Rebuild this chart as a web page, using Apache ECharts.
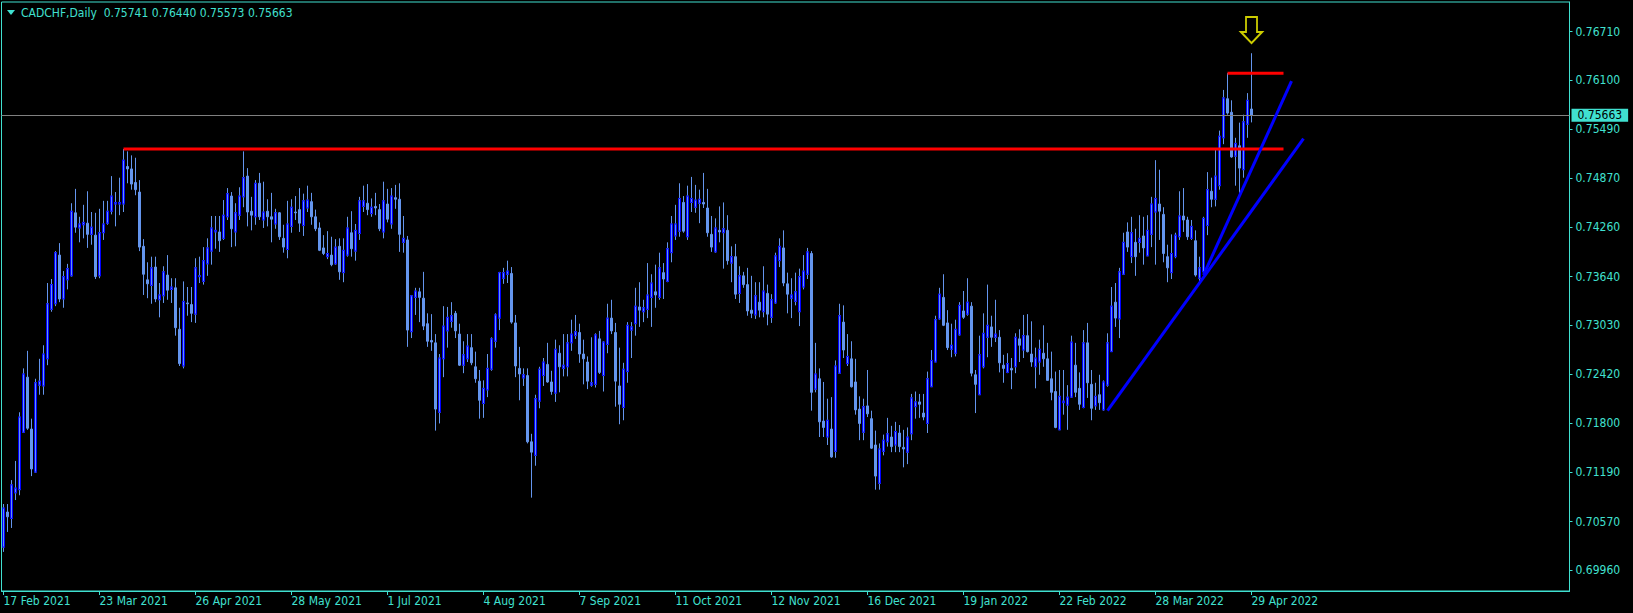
<!DOCTYPE html>
<html>
<head>
<meta charset="utf-8">
<script src="https://cdn.jsdelivr.net/npm/echarts@6/dist/echarts.min.js"></script>
<style>
html,body{margin:0;padding:0;background:#000;}
#c{width:1633px;height:613px;}
</style>
</head>
<body>
<div id="c"></div>
<script>
// ---- DATA (CADCHF Daily) ----
const symbolName = 'CADCHF,Daily';
const tickLabels = ['17 Feb 2021','23 Mar 2021','26 Apr 2021','28 May 2021','1 Jul 2021','4 Aug 2021','7 Sep 2021','11 Oct 2021','12 Nov 2021','16 Dec 2021','19 Jan 2022','22 Feb 2022','28 Mar 2022','29 Apr 2022'];
const priceLabels = [0.76710,0.76100,0.75490,0.74870,0.74260,0.73640,0.73030,0.72420,0.71800,0.71190,0.70570,0.69960];

const opens = [
0.7025,0.7069,0.7061,0.7093,0.7097,0.7169,0.7238,0.7173,0.7119,0.7228,
0.7227,0.7261,0.7323,0.7330,0.7391,0.7336,0.7360,0.7365,0.7444,0.7425,
0.7429,0.7431,0.7417,0.7416,0.7365,0.7419,0.7431,0.7446,0.7455,0.7455,
0.7455,0.7502,0.7499,0.7482,0.7470,0.7402,0.7360,0.7353,0.7376,0.7335,
0.7340,0.7366,0.7348,0.7350,0.7298,0.7252,0.7331,0.7329,0.7317,0.7364,
0.7358,0.7380,0.7396,0.7420,0.7420,0.7412,0.7439,0.7465,0.7420,0.7441,
0.7464,0.7490,0.7446,0.7439,0.7481,0.7435,0.7446,0.7439,0.7430,0.7444,
0.7412,0.7398,0.7427,0.7445,0.7448,0.7428,0.7450,0.7458,0.7439,0.7425,
0.7400,0.7389,0.7391,0.7380,0.7402,0.7369,0.7391,0.7419,0.7396,0.7418,
0.7452,0.7456,0.7443,0.7452,0.7448,0.7420,0.7455,0.7430,0.7463,0.7461,
0.7407,0.7410,0.7295,0.7338,0.7345,0.7337,0.7305,0.7284,0.7281,0.7194,
0.7261,0.7296,0.7308,0.7318,0.7292,0.7253,0.7261,0.7275,0.7251,0.7233,
0.7205,0.7222,0.7248,0.7283,0.7312,0.7362,0.7367,0.7368,0.7306,0.7249,
0.7237,0.7240,0.7157,0.7140,0.7208,0.7240,0.7254,0.7232,0.7218,0.7268,
0.7249,0.7251,0.7281,0.7290,0.7294,0.7267,0.7257,0.7228,0.7229,0.7286,
0.7240,0.7279,0.7312,0.7294,0.7227,0.7200,0.7245,0.7297,0.7305,0.7326,
0.7320,0.7323,0.7338,0.7345,0.7338,0.7369,0.7358,0.7394,0.7415,0.7421,
0.7457,0.7414,0.7457,0.7451,0.7456,0.7457,0.7450,0.7417,0.7395,0.7422,
0.7419,0.7422,0.7381,0.7389,0.7343,0.7365,0.7354,0.7322,0.7316,0.7332,
0.7320,0.7343,0.7313,0.7331,0.7384,0.7400,0.7355,0.7337,0.7333,0.7320,
0.7351,0.7367,0.7393,0.7223,0.7236,0.7183,0.7163,0.7173,0.7145,0.7243,
0.7307,0.7255,0.7261,0.7232,0.7198,0.7169,0.7202,0.7186,0.7153,0.7105,
0.7145,0.7157,0.7163,0.7153,0.7168,0.7150,0.7144,0.7167,0.7201,0.7207,
0.7193,0.7180,0.7226,0.7257,0.7311,0.7338,0.7306,0.7273,0.7268,0.7291,
0.7321,0.7317,0.7327,0.7241,0.7216,0.7251,0.7288,0.7301,0.7288,0.7288,
0.7253,0.7244,0.7249,0.7251,0.7286,0.7272,0.7290,0.7267,0.7251,0.7257,
0.7268,0.7261,0.7236,0.7220,0.7172,0.7206,0.7203,0.7213,0.7253,0.7224,
0.7200,0.7281,0.7229,0.7202,0.7216,0.7197,0.7228,0.7270,0.7332,0.7311,
0.7367,0.7420,0.7389,0.7407,0.7407,0.7415,0.7390,0.7417,0.7445,0.7455,
0.7442,0.7389,0.7369,0.7389,0.7414,0.7440,0.7435,0.7412,0.7409,0.7362,
0.7370,0.7428,0.7471,0.7461,0.7478,0.7538,0.7587,0.7570,0.7515,0.7528,
0.7498,0.7555,0.75741];

const closes = [
0.7074,0.7063,0.7103,0.7099,0.7188,0.7242,0.7174,0.7123,0.7231,0.7233,
0.7267,0.7330,0.7354,0.7394,0.7336,0.7364,0.7374,0.7446,0.7426,0.7430,
0.7432,0.7417,0.7426,0.7364,0.7419,0.7430,0.7446,0.7465,0.7457,0.7457,
0.7510,0.7499,0.7480,0.7473,0.7401,0.7367,0.7355,0.7375,0.7336,0.7341,
0.7370,0.7347,0.7351,0.7300,0.7255,0.7333,0.7330,0.7318,0.7375,0.7365,
0.7384,0.7400,0.7425,0.7422,0.7409,0.7441,0.7468,0.7424,0.7444,0.7465,
0.7488,0.7445,0.7441,0.7481,0.7439,0.7445,0.7439,0.7436,0.7444,0.7414,
0.7401,0.7430,0.7451,0.7444,0.7431,0.7459,0.7460,0.7439,0.7424,0.7397,
0.7393,0.7393,0.7379,0.7401,0.7370,0.7397,0.7425,0.7399,0.7422,0.7459,
0.7459,0.7448,0.7451,0.7450,0.7424,0.7459,0.7436,0.7465,0.7461,0.7417,
0.7412,0.7297,0.7340,0.7346,0.7338,0.7302,0.7283,0.7282,0.7198,0.7262,
0.7302,0.7313,0.7315,0.7296,0.7253,0.7266,0.7277,0.7256,0.7236,0.7209,
0.7224,0.7249,0.7286,0.7316,0.7369,0.7369,0.7371,0.7307,0.7252,0.7242,
0.7241,0.7157,0.7144,0.7211,0.7248,0.7257,0.7232,0.7220,0.7273,0.7251,
0.7253,0.7281,0.7292,0.7295,0.7267,0.7261,0.7233,0.7231,0.7291,0.7244,
0.7282,0.7312,0.7296,0.7233,0.7204,0.7248,0.7303,0.7301,0.7327,0.7322,
0.7325,0.7341,0.7356,0.7341,0.7375,0.7361,0.7399,0.7430,0.7430,0.7462,
0.7421,0.7465,0.7462,0.7460,0.7461,0.7455,0.7419,0.7401,0.7425,0.7420,
0.7424,0.7384,0.7389,0.7342,0.7365,0.7354,0.7321,0.7318,0.7340,0.7322,
0.7346,0.7317,0.7335,0.7390,0.7402,0.7356,0.7342,0.7341,0.7345,0.7364,
0.7371,0.7395,0.7219,0.7242,0.7182,0.7175,0.7184,0.7138,0.7252,0.7315,
0.7272,0.7264,0.7226,0.7197,0.7180,0.7201,0.7192,0.7149,0.7114,0.7148,
0.7159,0.7167,0.7151,0.7170,0.7151,0.7148,0.7163,0.7212,0.7207,0.7204,
0.7188,0.7236,0.7259,0.7310,0.7342,0.7303,0.7275,0.7278,0.7298,0.7328,
0.7313,0.7332,0.7243,0.7229,0.7266,0.7293,0.7303,0.7288,0.7292,0.7256,
0.7249,0.7255,0.7247,0.7288,0.7278,0.7290,0.7270,0.7257,0.7262,0.7273,
0.7261,0.7234,0.7219,0.7175,0.7214,0.7208,0.7213,0.7282,0.7219,0.7204,
0.7281,0.7231,0.7199,0.7214,0.7206,0.7232,0.7281,0.7327,0.7312,0.7370,
0.7407,0.7401,0.7419,0.7389,0.7412,0.7400,0.7422,0.7455,0.7462,0.7446,
0.7393,0.7375,0.7393,0.7416,0.7440,0.7435,0.7414,0.7427,0.7366,0.7375,
0.7437,0.7473,0.7461,0.7490,0.7540,0.7588,0.7569,0.7514,0.7531,0.7500,
0.7558,0.7585,0.75663];

const lows = [
0.7019,0.7044,0.7049,0.7084,0.7090,0.7168,0.7172,0.7114,0.7118,0.7216,
0.7216,0.7253,0.7320,0.7327,0.7332,0.7325,0.7348,0.7364,0.7419,0.7407,
0.7412,0.7400,0.7404,0.7361,0.7362,0.7410,0.7429,0.7442,0.7427,0.7441,
0.7445,0.7481,0.7473,0.7466,0.7396,0.7341,0.7337,0.7330,0.7332,0.7313,
0.7331,0.7335,0.7331,0.7290,0.7252,0.7249,0.7315,0.7307,0.7306,0.7356,
0.7354,0.7365,0.7379,0.7399,0.7395,0.7410,0.7435,0.7401,0.7402,0.7435,
0.7451,0.7427,0.7422,0.7429,0.7435,0.7425,0.7427,0.7407,0.7424,0.7410,
0.7394,0.7387,0.7419,0.7435,0.7420,0.7415,0.7445,0.7429,0.7421,0.7396,
0.7391,0.7386,0.7377,0.7379,0.7360,0.7357,0.7389,0.7389,0.7384,0.7410,
0.7445,0.7441,0.7439,0.7441,0.7421,0.7412,0.7432,0.7424,0.7449,0.7395,
0.7394,0.7276,0.7287,0.7316,0.7307,0.7297,0.7276,0.7271,0.7171,0.7180,
0.7238,0.7275,0.7300,0.7287,0.7252,0.7243,0.7257,0.7253,0.7231,0.7186,
0.7187,0.7213,0.7246,0.7275,0.7297,0.7355,0.7356,0.7305,0.7238,0.7209,
0.7227,0.7155,0.7087,0.7127,0.7199,0.7227,0.7231,0.7216,0.7207,0.7219,
0.7239,0.7239,0.7271,0.7286,0.7256,0.7229,0.7223,0.7226,0.7225,0.7242,
0.7220,0.7268,0.7292,0.7201,0.7179,0.7184,0.7231,0.7262,0.7290,0.7301,
0.7307,0.7312,0.7301,0.7325,0.7335,0.7336,0.7357,0.7382,0.7410,0.7414,
0.7419,0.7410,0.7445,0.7444,0.7431,0.7450,0.7414,0.7395,0.7394,0.7407,
0.7374,0.7379,0.7357,0.7336,0.7331,0.7350,0.7315,0.7312,0.7311,0.7313,
0.7313,0.7303,0.7306,0.7330,0.7376,0.7352,0.7318,0.7312,0.7328,0.7302,
0.7348,0.7361,0.7196,0.7219,0.7163,0.7163,0.7153,0.7137,0.7137,0.7243,
0.7262,0.7252,0.7225,0.7191,0.7159,0.7159,0.7188,0.7148,0.7097,0.7097,
0.7140,0.7151,0.7144,0.7144,0.7144,0.7125,0.7129,0.7159,0.7186,0.7187,
0.7184,0.7168,0.7226,0.7257,0.7310,0.7302,0.7272,0.7263,0.7264,0.7290,
0.7311,0.7315,0.7239,0.7193,0.7216,0.7249,0.7263,0.7276,0.7282,0.7244,
0.7231,0.7243,0.7223,0.7243,0.7257,0.7262,0.7269,0.7251,0.7224,0.7241,
0.7251,0.7234,0.7209,0.7174,0.7172,0.7191,0.7172,0.7212,0.7213,0.7197,
0.7199,0.7212,0.7184,0.7197,0.7197,0.7196,0.7226,0.7270,0.7301,0.7287,
0.7366,0.7395,0.7381,0.7365,0.7394,0.7379,0.7390,0.7401,0.7379,0.7410,
0.7382,0.7357,0.7361,0.7387,0.7410,0.7420,0.7410,0.7410,0.7364,0.7358,
0.7366,0.7416,0.7451,0.7452,0.7473,0.7530,0.7567,0.7513,0.7478,0.7469,
0.7488,0.7538,0.75573];

const highs = [
0.7079,0.7079,0.7109,0.7133,0.7194,0.7249,0.7271,0.7186,0.7236,0.7261,
0.7278,0.7356,0.7361,0.7396,0.7406,0.7371,0.7380,0.7456,0.7474,0.7439,
0.7454,0.7471,0.7445,0.7444,0.7449,0.7459,0.7459,0.7490,0.7470,0.7488,
0.7524,0.7521,0.7516,0.7513,0.7485,0.7411,0.7382,0.7389,0.7389,0.7356,
0.7377,0.7391,0.7362,0.7362,0.7325,0.7358,0.7351,0.7351,0.7387,0.7389,
0.7401,0.7412,0.7440,0.7440,0.7440,0.7460,0.7475,0.7470,0.7456,0.7476,
0.7521,0.7500,0.7464,0.7485,0.7494,0.7483,0.7461,0.7469,0.7449,0.7445,
0.7429,0.7459,0.7461,0.7465,0.7475,0.7468,0.7478,0.7469,0.7448,0.7432,
0.7416,0.7421,0.7414,0.7411,0.7412,0.7412,0.7439,0.7446,0.7430,0.7464,
0.7478,0.7480,0.7462,0.7469,0.7455,0.7483,0.7474,0.7475,0.7479,0.7481,
0.7440,0.7415,0.7341,0.7350,0.7350,0.7370,0.7318,0.7317,0.7292,0.7267,
0.7327,0.7326,0.7332,0.7321,0.7305,0.7283,0.7292,0.7292,0.7270,0.7247,
0.7234,0.7267,0.7288,0.7318,0.7370,0.7375,0.7384,0.7376,0.7316,0.7276,
0.7249,0.7249,0.7167,0.7216,0.7251,0.7262,0.7281,0.7246,0.7285,0.7278,
0.7292,0.7292,0.7310,0.7316,0.7305,0.7285,0.7264,0.7288,0.7293,0.7296,
0.7283,0.7330,0.7335,0.7306,0.7275,0.7256,0.7307,0.7307,0.7350,0.7357,
0.7335,0.7381,0.7367,0.7379,0.7394,0.7381,0.7407,0.7440,0.7454,0.7481,
0.7465,0.7478,0.7489,0.7479,0.7473,0.7494,0.7474,0.7440,0.7437,0.7452,
0.7457,0.7441,0.7402,0.7405,0.7377,0.7370,0.7375,0.7365,0.7357,0.7357,
0.7377,0.7354,0.7342,0.7394,0.7412,0.7422,0.7369,0.7362,0.7369,0.7374,
0.7391,0.7400,0.7396,0.7281,0.7249,0.7232,0.7211,0.7213,0.7259,0.7330,
0.7328,0.7292,0.7283,0.7261,0.7214,0.7211,0.7247,0.7196,0.7171,0.7155,
0.7166,0.7187,0.7177,0.7182,0.7178,0.7172,0.7175,0.7217,0.7220,0.7217,
0.7217,0.7245,0.7272,0.7315,0.7350,0.7367,0.7322,0.7305,0.7310,0.7332,
0.7346,0.7362,0.7332,0.7247,0.7290,0.7318,0.7354,0.7315,0.7335,0.7297,
0.7266,0.7268,0.7262,0.7293,0.7298,0.7316,0.7317,0.7308,0.7275,0.7285,
0.7303,0.7281,0.7270,0.7245,0.7247,0.7247,0.7228,0.7290,0.7281,0.7244,
0.7297,0.7306,0.7247,0.7231,0.7241,0.7234,0.7293,0.7351,0.7356,0.7375,
0.7419,0.7432,0.7439,0.7424,0.7441,0.7439,0.7441,0.7464,0.7510,0.7498,
0.7451,0.7404,0.7417,0.7419,0.7471,0.7475,0.7439,0.7435,0.7422,0.7389,
0.7439,0.7495,0.7488,0.7525,0.7547,0.7598,0.7619,0.7585,0.7538,0.7557,
0.7567,0.7594,0.76440];

// drawn objects (bar index, price)
const resistanceLine = [[30, 0.7524], [320, 0.7524]];
const topLine = [[306, 0.7619], [320, 0.7619]];
const trendLineA = [[276, 0.7196], [325, 0.7537]];
const trendLineB = [[300, 0.7366], [322, 0.7609]];
const arrowPoint = [[312, 0.76731]];

// ---- build categories (daily trading days + empty right margin) ----
const MON = ['Jan','Feb','Mar','Apr','May','Jun','Jul','Aug','Sep','Oct','Nov','Dec'];
const TOTAL_SLOTS = 392;
const categories = [];
{
  const d = new Date(Date.UTC(2021, 1, 17));
  while (categories.length < TOTAL_SLOTS) {
    const wd = d.getUTCDay();
    if (wd !== 0 && wd !== 6) categories.push(d.getUTCDate() + ' ' + MON[d.getUTCMonth()] + ' ' + d.getUTCFullYear());
    d.setUTCDate(d.getUTCDate() + 1);
  }
}
const tickSet = new Set(tickLabels);

const ohlc = opens.map((o, i) => [o, closes[i], lows[i], highs[i]]);
const bullBodies = opens.map((o, i) => closes[i] > o ? [o, closes[i], o, closes[i]] : ['-', '-', '-', '-']);
const last = opens.length - 1;

const AX = '#40E0D0';
const CF = '#6495ED';
const FONT = "'DejaVu Sans Condensed','DejaVu Sans',sans-serif";

const chart = echarts.init(document.getElementById('c'), null, {renderer: 'svg'});
chart.setOption({
  animation: false,
  backgroundColor: '#000000',
  title: {
    text: symbolName + '\u00a0\u00a0' + opens[last].toFixed(5) + ' ' + highs[last].toFixed(5) + ' ' + lows[last].toFixed(5) + ' ' + closes[last].toFixed(5),
    left: 21, top: 7, padding: 0,
    textStyle: {color: AX, fontSize: 12, fontWeight: 'normal', fontFamily: FONT}
  },
  graphic: [{
    type: 'polygon', shape: {points: [[7, 10], [15, 10], [11, 15]]},
    style: {fill: AX}, z: 100
  }],
  grid: {left: 1.5, right: 63.5, top: 2, bottom: 22, show: true, borderColor: AX, borderWidth: 1, backgroundColor: '#000'},
  xAxis: {
    type: 'category', data: categories, boundaryGap: true,
    axisLine: {show: true, lineStyle: {color: AX}},
    axisTick: {show: true, alignWithLabel: true, length: 4, interval: (i, v) => tickSet.has(v), lineStyle: {color: AX}},
    axisLabel: {show: true, interval: (i, v) => tickSet.has(v), align: 'left', color: AX, fontSize: 12, margin: 4, fontFamily: FONT},
    splitLine: {show: false}
  },
  yAxis: {
    type: 'value', position: 'right', min: 0.69700, max: 0.77082,
    splitLine: {show: false},
    axisLine: {show: true, lineStyle: {color: AX}},
    axisTick: {show: true, length: 3, lineStyle: {color: AX}, customValues: priceLabels},
    axisLabel: {show: true, color: AX, fontSize: 12, margin: 6, fontFamily: FONT, customValues: priceLabels, formatter: v => v.toFixed(5)}
  },
  series: [
    {
      type: 'candlestick', name: 'CADCHF', data: ohlc, barWidth: 2, z: 2,
      itemStyle: {color: CF, color0: CF, borderColor: CF, borderColor0: CF, borderColorDoji: CF, borderWidth: 1}
    },
    {
      type: 'candlestick', name: 'bull', data: bullBodies, barWidth: 2, z: 3,
      itemStyle: {color: CF, color0: CF, borderColor: '#0000FF', borderColor0: '#0000FF', borderWidth: 1}
    },
    {
      type: 'line', data: resistanceLine, symbol: 'none', z: 5, silent: true, lineStyle: {color: '#FF0000', width: 3},
      markLine: {
        silent: true, symbol: ['none', 'none'], animation: false, precision: 5,
        lineStyle: {color: '#808080', width: 1, type: 'solid'},
        label: {show: true, position: 'end', formatter: closes[last].toFixed(5), color: '#000', backgroundColor: AX, padding: [1, 6, 0, 6], fontSize: 12, fontFamily: FONT, distance: 2},
        data: [{yAxis: closes[last]}]
      }
    },
    {type: 'line', data: topLine, symbol: 'none', z: 5, silent: true, lineStyle: {color: '#FF0000', width: 3}},
    {type: 'line', data: trendLineA, symbol: 'none', z: 5, silent: true, lineStyle: {color: '#0000FF', width: 3}},
    {type: 'line', data: trendLineB, symbol: 'none', z: 5, silent: true, lineStyle: {color: '#0000FF', width: 3}},
    {
      type: 'scatter', data: arrowPoint, z: 6, silent: true,
      symbol: 'path://M5,0 L16,0 L16,15 L21,15 L10.5,26 L0,15 L5,15 Z',
      symbolSize: [21, 26],
      itemStyle: {color: 'rgba(0,0,0,0)', borderColor: '#FFFF00', borderWidth: 2}
    }
  ]
});
</script>
</body>
</html>
